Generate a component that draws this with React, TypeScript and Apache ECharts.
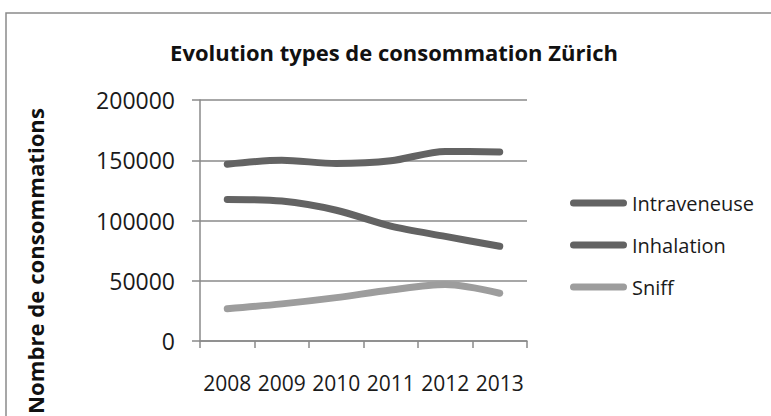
import React, { useEffect, useRef } from "react";
import * as echarts from "echarts";

const categories = ["2008", "2009", "2010", "2011", "2012", "2013"];
const intraveneuse = [117500, 116100, 108500, 95300, 86800, 78600];
const inhalation = [146700, 150000, 147300, 149500, 157300, 156900];
const sniff = [26700, 30800, 36000, 42300, 46800, 39600];
const yTicks = [0, 50000, 100000, 150000, 200000];
const legendNames = ["Intraveneuse", "Inhalation", "Sniff"];

const title = "Evolution types de consommation Zürich";
const yName = "Nombre de consommations";

const FONT = "'Open Sans', 'Noto Sans', sans-serif";
const AXIS = "#8a8a8a";
const DARK = "#636363";
const LIGHT = "#9d9d9d";

function fitFontSize(text: string, weight: string, target: number, fallback: number) {
  try {
    const c = document.createElement("canvas").getContext("2d");
    if (!c) return fallback;
    c.font = `${weight} 100px ${FONT}`;
    const w = c.measureText(text).width;
    if (!w) return fallback;
    return (100 * target) / w;
  } catch (e) {
    return fallback;
  }
}

export default function App() {
  const ref = useRef<HTMLDivElement>(null);
  useEffect(() => {
    if (!ref.current) return;
    const chart = echarts.init(ref.current, undefined, { renderer: "svg" });
    const titleSize = Math.min(26, fitFontSize(title, "bold", 448, 21));
    const nameSize = Math.min(26, fitFontSize(yName, "bold", 306, 21));
    const capsule = "path://M3.5,0 L53.5,0 A3.5,3.5 0 0 1 53.5,7 L3.5,7 A3.5,3.5 0 0 1 3.5,0 Z";
    const mkSeries = (name: string, data: number[], color: string) => ({
      type: "line",
      name,
      data,
      smooth: 0.3,
      showSymbol: false,
      symbol: "none",
      lineStyle: { width: 7, color, cap: "round", join: "round" },
      itemStyle: { color },
    });
    chart.setOption({
      animation: false,
      backgroundColor: "#ffffff",
      textStyle: { fontFamily: FONT },
      grid: { left: 200, right: 244, top: 100, bottom: 75, containLabel: false },
      xAxis: {
        type: "category",
        data: categories,
        boundaryGap: true,
        axisLine: { show: true, lineStyle: { color: AXIS, width: 1.5 } },
        axisTick: { show: true, length: 7, inside: false, lineStyle: { color: AXIS, width: 1.5 } },
        axisLabel: {
          color: "#1a1a1a",
          fontSize: 21,
          fontFamily: FONT,
          margin: 31,
          interval: 0,
          hideOverlap: false,
        },
        splitLine: { show: false },
      },
      yAxis: {
        type: "value",
        min: yTicks[0],
        max: yTicks[yTicks.length - 1],
        interval: yTicks[1] - yTicks[0],
        axisLine: { show: true, lineStyle: { color: AXIS, width: 1.5 } },
        axisTick: { show: true, length: 8, lineStyle: { color: AXIS, width: 1.5 } },
        axisLabel: {
          color: "#1a1a1a",
          fontSize: 23,
          fontFamily: FONT,
          margin: 25,
          formatter: (v: number) => String(v),
        },
        splitLine: { show: true, lineStyle: { color: AXIS, width: 1.5 } },
      },
      legend: {
        orient: "vertical",
        left: 565,
        top: 188,
        itemWidth: 57,
        itemHeight: 7,
        itemGap: 22,
        icon: capsule,
        textStyle: { fontSize: 20, color: "#1a1a1a", fontFamily: FONT },
        data: legendNames,
      },
      series: [
        mkSeries(legendNames[0], intraveneuse, DARK),
        mkSeries(legendNames[1], inhalation, DARK),
        mkSeries(legendNames[2], sniff, LIGHT),
      ],
      graphic: [
        {
          type: "rect",
          shape: { x: 6, y: 13, width: 900, height: 600 },
          style: { fill: "none", stroke: AXIS, lineWidth: 1.5 },
          silent: true,
        },
        {
          type: "text",
          x: 394,
          y: 52,
          style: {
            text: title,
            font: `bold ${titleSize}px ${FONT}`,
            fill: "#111",
            align: "center",
            verticalAlign: "middle",
          },
        },
        {
          type: "text",
          x: 35,
          y: 261,
          rotation: Math.PI / 2,
          style: {
            text: yName,
            font: `bold ${nameSize}px ${FONT}`,
            fill: "#111",
            align: "center",
            verticalAlign: "middle",
          },
        },
      ],
    });
    return () => chart.dispose();
  }, []);
  return (
    <div
      ref={ref}
      style={{ position: "fixed", left: 0, top: 0, width: 771, height: 416, background: "#fff" }}
    />
  );
}
